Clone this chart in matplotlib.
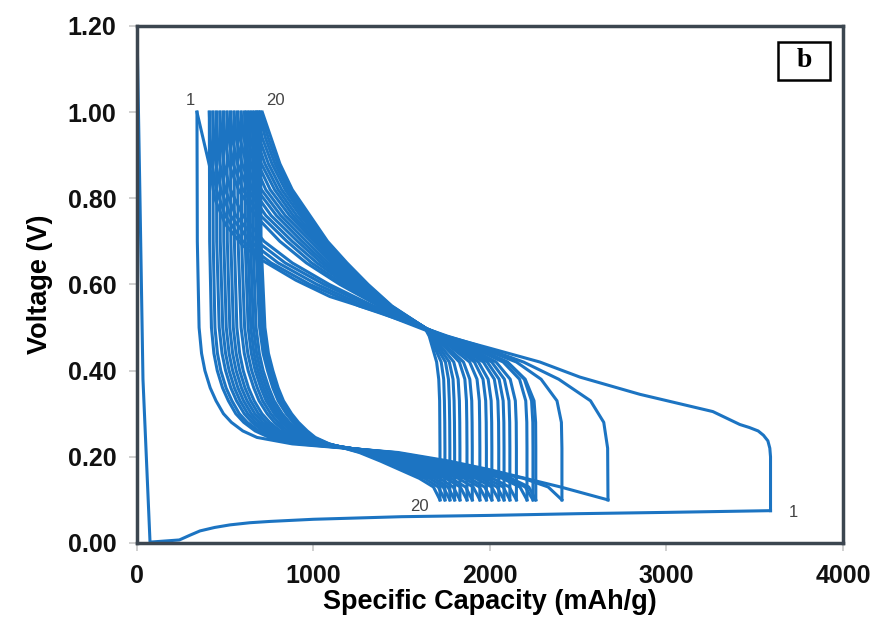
import matplotlib
matplotlib.use("Agg")
import matplotlib.pyplot as plt
from matplotlib.patches import Rectangle

# ---------------- data ----------------
# first discharge (lithiation) of cycle 1
dis1_cap = [0, 17, 34, 74, 240, 300, 357, 440, 527, 640, 753, 1000, 1500, 2000, 2500, 3000, 3590]
dis1_v = [1.20, 0.80, 0.38, 0.002, 0.007, 0.018, 0.028, 0.036, 0.042, 0.047, 0.050, 0.055, 0.061,
          0.064, 0.068, 0.071, 0.075]

# first charge (delithiation) of cycle 1
chg1_cap = [3590, 3590, 3586, 3575, 3550, 3520, 3470, 3416, 3263, 2850, 2510, 2283, 2000, 1660,
            1377, 1093, 900, 714, 600, 500, 440, 414, 340]
chg1_v = [0.075, 0.20, 0.22, 0.237, 0.25, 0.26, 0.268, 0.275, 0.305, 0.345, 0.385, 0.42, 0.452,
          0.49, 0.535, 0.572, 0.61, 0.655, 0.69, 0.74, 0.80, 0.87, 1.00]

# discharge voltage levels and capacities of cycles 2..20 at those levels
dis_volt = [1.00, 0.70, 0.50, 0.44, 0.40, 0.36, 0.33, 0.30, 0.28, 0.26, 0.245,
            0.23, 0.21, 0.19, 0.17, 0.15, 0.13, 0.10]
dis_caps = [
    [340, 342, 352, 366, 385, 415, 448, 490, 535, 600, 680, 880, 1480, 1770, 2000, 2200, 2400, 2669],
    [410, 412, 422, 436, 455, 485, 518, 560, 605, 670, 750, 920, 1460, 1740, 1960, 2190, 2330, 2408],
    [430, 432, 442, 456, 475, 505, 538, 580, 625, 690, 770, 940, 1450, 1720, 1930, 2120, 2220, 2260],
    [450, 452, 466, 482, 502, 532, 564, 608, 652, 712, 780, 955, 1440, 1700, 1910, 2100, 2200, 2244],
    [470, 472, 486, 502, 522, 552, 584, 628, 672, 732, 800, 970, 1430, 1680, 1880, 2070, 2170, 2210],
    [490, 492, 506, 522, 542, 572, 604, 648, 692, 752, 820, 985, 1410, 1650, 1840, 2015, 2110, 2150],
    [510, 512, 526, 542, 562, 592, 624, 668, 712, 772, 840, 1000, 1400, 1630, 1810, 1980, 2075, 2113],
    [530, 532, 546, 562, 582, 612, 644, 688, 732, 792, 860, 1015, 1390, 1610, 1785, 1950, 2040, 2080],
    [550, 552, 566, 582, 602, 632, 664, 708, 752, 812, 880, 1030, 1380, 1590, 1760, 1920, 2010, 2050],
    [570, 573, 590, 608, 630, 662, 692, 738, 779, 834, 890, 1040, 1370, 1570, 1730, 1885, 1970, 2011],
    [590, 593, 610, 628, 650, 682, 712, 758, 799, 854, 910, 1050, 1360, 1550, 1705, 1855, 1940, 1980],
    [610, 613, 630, 648, 670, 702, 732, 778, 819, 874, 930, 1060, 1350, 1530, 1680, 1820, 1905, 1943],
    [625, 628, 645, 663, 685, 717, 747, 793, 834, 889, 945, 1065, 1335, 1505, 1650, 1780, 1862, 1900],
    [640, 643, 660, 678, 700, 732, 762, 808, 849, 904, 960, 1070, 1320, 1485, 1625, 1750, 1832, 1870],
    [655, 658, 675, 693, 715, 747, 777, 823, 864, 919, 975, 1075, 1305, 1465, 1595, 1715, 1792, 1830],
    [670, 673, 695, 715, 740, 770, 800, 846, 885, 935, 980, 1080, 1290, 1440, 1565, 1685, 1762, 1800],
    [680, 683, 705, 725, 750, 780, 810, 856, 895, 945, 990, 1083, 1280, 1420, 1540, 1658, 1735, 1773],
    [690, 693, 715, 735, 760, 790, 820, 866, 905, 955, 1000, 1087, 1270, 1400, 1515, 1630, 1707, 1745],
    [700, 703, 725, 745, 770, 800, 830, 876, 915, 965, 1010, 1090, 1260, 1380, 1490, 1600, 1680, 1717],
]

# charge voltage levels and capacities of cycles 2..20 at those levels
chg_volt = [0.10, 0.22, 0.28, 0.33, 0.38, 0.42, 0.46, 0.48, 0.50, 0.55, 0.60, 0.65, 0.70,
            0.76, 0.82, 0.88, 0.94, 1.00]
chg_caps = [
    [2669, 2667, 2645, 2570, 2390, 2190, 1920, 1760, 1620, 1260, 980, 760, 600, 500, 450, 425, 415, 410],
    [2408, 2408, 2405, 2380, 2290, 2150, 1900, 1750, 1625, 1290, 1020, 800, 640, 530, 475, 447, 435, 430],
    [2260, 2260, 2259, 2250, 2200, 2100, 1880, 1740, 1625, 1320, 1060, 840, 680, 560, 500, 470, 456, 450],
    [2244, 2244, 2243, 2236, 2195, 2095, 1875, 1738, 1625, 1340, 1090, 880, 720, 600, 530, 492, 477, 470],
    [2210, 2210, 2209, 2203, 2168, 2075, 1865, 1735, 1628, 1370, 1150, 960, 810, 670, 575, 520, 498, 490],
    [2150, 2150, 2149, 2144, 2115, 2035, 1845, 1725, 1628, 1380, 1170, 990, 850, 700, 600, 545, 520, 510],
    [2113, 2113, 2112, 2108, 2082, 2010, 1830, 1718, 1628, 1390, 1190, 1020, 880, 730, 630, 570, 540, 530],
    [2080, 2080, 2079, 2075, 2052, 1985, 1818, 1712, 1628, 1400, 1205, 1045, 910, 760, 655, 595, 562, 550],
    [2050, 2050, 2049, 2045, 2025, 1963, 1805, 1706, 1630, 1405, 1220, 1065, 935, 790, 680, 620, 583, 570],
    [2011, 2011, 2010, 2007, 1990, 1935, 1790, 1700, 1630, 1410, 1235, 1085, 960, 815, 705, 645, 605, 590],
    [1980, 1980, 1979, 1976, 1961, 1912, 1778, 1695, 1630, 1415, 1245, 1105, 985, 840, 730, 665, 625, 610],
    [1943, 1943, 1942, 1940, 1927, 1885, 1763, 1690, 1630, 1420, 1255, 1120, 1005, 865, 755, 685, 642, 625],
    [1900, 1900, 1899, 1897, 1886, 1850, 1745, 1684, 1630, 1425, 1265, 1135, 1020, 885, 780, 705, 660, 640],
    [1870, 1870, 1869, 1867, 1858, 1827, 1732, 1680, 1630, 1428, 1275, 1150, 1035, 905, 800, 725, 675, 655],
    [1830, 1830, 1829, 1827, 1820, 1795, 1715, 1674, 1630, 1432, 1282, 1160, 1048, 925, 820, 745, 692, 670],
    [1800, 1800, 1799, 1797, 1791, 1770, 1702, 1670, 1630, 1435, 1290, 1170, 1058, 940, 840, 765, 710, 680],
    [1773, 1773, 1772, 1770, 1765, 1748, 1690, 1666, 1630, 1438, 1297, 1177, 1066, 955, 855, 782, 728, 690],
    [1745, 1745, 1744, 1742, 1738, 1724, 1680, 1662, 1630, 1441, 1303, 1184, 1073, 968, 868, 797, 744, 700],
    [1717, 1717, 1716, 1715, 1710, 1698, 1670, 1656, 1630, 1445, 1310, 1190, 1080, 980, 880, 810, 760, 710],
]

x_ticks = [0, 1000, 2000, 3000, 4000]
y_ticks = [0.0, 0.2, 0.4, 0.6, 0.8, 1.0, 1.2]
cycle_labels = [("1", 300, 1.028), ("20", 782, 1.028), ("20", 1603, 0.084), ("1", 3717, 0.070)]

# ---------------- drawing ----------------
line_color = "#1c74c2"
lw = 2.2
fig = plt.figure(figsize=(8.78, 6.18), dpi=100)
ax = fig.add_axes([0.156, 0.1214, 0.804, 0.8366])

ax.plot(dis1_cap, dis1_v, color=line_color, lw=lw, solid_joinstyle="round")
ax.plot(chg1_cap, chg1_v, color=line_color, lw=lw, solid_joinstyle="round")
for dc, cc in zip(dis_caps, chg_caps):
    ax.plot(dc, dis_volt, color=line_color, lw=lw, solid_joinstyle="round")
    ax.plot(cc, chg_volt, color=line_color, lw=lw, solid_joinstyle="round")

ax.set_xlim(0, 4000)
ax.set_ylim(0, 1.2)
ax.set_xticks(x_ticks)
ax.set_xticklabels([str(t) for t in x_ticks])
ax.set_yticks(y_ticks)
ax.set_yticklabels([f"{t:.2f}" for t in y_ticks])

for lab in ax.get_xticklabels() + ax.get_yticklabels():
    lab.set_fontfamily("Liberation Sans")
    lab.set_fontweight("bold")
    lab.set_fontsize(18)
    lab.set_color("#111111")
ax.tick_params(axis="both", direction="out", length=6, width=1.2, color="#c8c8c8")
ax.tick_params(axis="y", pad=9)
ax.tick_params(axis="x", pad=9)

for s in ax.spines.values():
    s.set_color("#3c4650")
    s.set_linewidth(2.5)

ax.set_xlabel("Specific Capacity (mAh/g)", fontfamily="Liberation Sans", fontweight="bold",
              fontsize=19.5, labelpad=1)
ax.set_ylabel("Voltage (V)", fontfamily="Liberation Sans", fontweight="bold",
              fontsize=19.5, labelpad=10)

for txt, xv, yv in cycle_labels:
    ax.text(xv, yv, txt, fontsize=12, color="#444444", ha="center", va="center",
            fontfamily="Liberation Sans")

ax.add_patch(Rectangle((0.908, 0.8956), 0.0737, 0.0735, transform=ax.transAxes,
                       fill=False, edgecolor="black", lw=1.8, zorder=5))
ax.text(0.9448, 0.9323, "b", transform=ax.transAxes, ha="center", va="center",
        fontfamily="Liberation Serif", fontweight="bold", fontsize=20, zorder=6)

fig.savefig("out.png", dpi=100)
